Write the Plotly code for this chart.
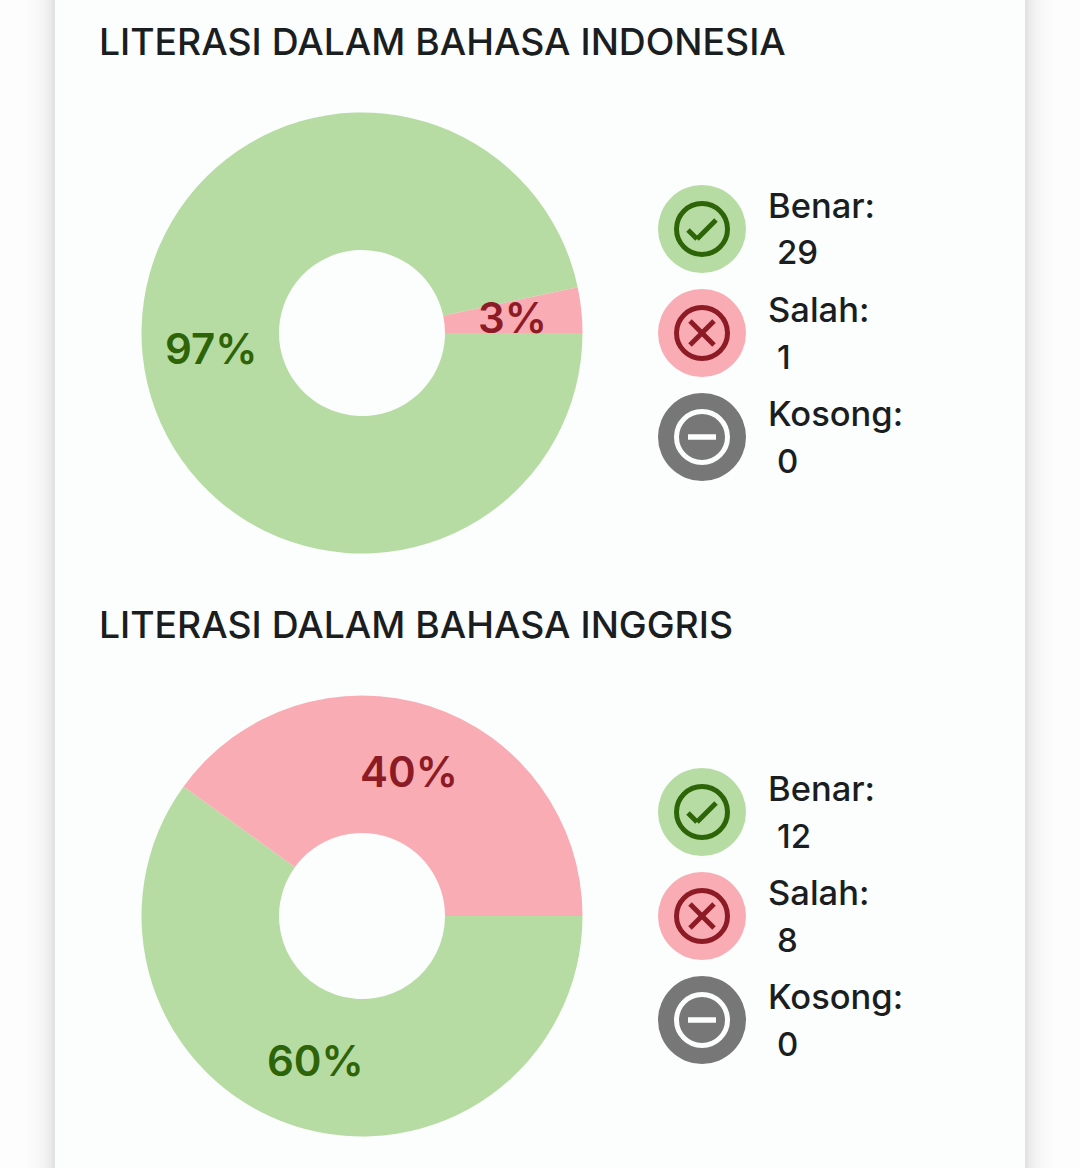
import plotly.graph_objects as go
import math

W, H = 1080, 1168
FONT = "Inter"
titles = ["LITERASI DALAM BAHASA INDONESIA", "LITERASI DALAM BAHASA INGGRIS"]
categories = ["Benar", "Salah", "Kosong"]
counts = [[29, 1, 0], [12, 8, 0]]
slice_colors = ["#B7DCA3", "#F9ACB3", "#777777"]
ink_colors = ["#2E6408", "#8C1B25", "#FCFDFD"]
text_color = "#1B1E21"
card_color = "#FCFDFD"
shadow_alphas = [0.10, 0.075, 0.055, 0.04, 0.03, 0.02, 0.015, 0.01, 0.006, 0.003]

CX, R, HOLE_R = 362, 220.5, 83
CY = [333, 916]
TITLE_Y = [42, 625]
ICON_X, ICON_R, RING_R = 702, 44, 25.5
ROW_OFFSET = [-104, 0, 104]

fx = lambda x: x / W
fy = lambda y: 1 - y / H
shapes, annotations, traces = [], [], []


def rect(x0, y0, x1, y1, color, opacity=1):
    shapes.append(dict(type="rect", xref="paper", yref="paper", x0=fx(x0), x1=fx(x1),
                       y0=fy(y0), y1=fy(y1), fillcolor=color, opacity=opacity,
                       line=dict(width=0), layer="below"))


def circle(cx, cy, r, fill, line=None, width=0):
    shapes.append(dict(type="circle", xref="paper", yref="paper", x0=fx(cx - r), x1=fx(cx + r),
                       y0=fy(cy - r), y1=fy(cy + r), fillcolor=fill,
                       line=dict(color=line or fill, width=width), layer="above"))


def seg(x0, y0, x1, y1, color, width):
    shapes.append(dict(type="line", xref="paper", yref="paper", x0=fx(x0), x1=fx(x1),
                       y0=fy(y0), y1=fy(y1), line=dict(color=color, width=width), layer="above"))


def text(x, y, s, size, color=text_color, anchor="left", weight=500):
    annotations.append(dict(xref="paper", yref="paper", x=fx(x), y=fy(y), text=s, showarrow=False,
                            xanchor=anchor, yanchor="middle", align="left",
                            font=dict(family=FONT, size=size, color=color, weight=weight)))


rect(55, 0, 1025, H, card_color)
for i, a in enumerate(shadow_alphas):
    rect(55 - 3 * (i + 1), 0, 55 - 3 * i, H, "#000000", a)
    rect(1025 + 3 * i, 0, 1025 + 3 * (i + 1), H, "#000000", a)

for b in range(2):
    cy = CY[b]
    traces.append(go.Pie(
        labels=categories, values=counts[b], sort=False, direction="clockwise", rotation=90,
        hole=HOLE_R / R, marker=dict(colors=slice_colors, line=dict(width=0)),
        textinfo="none",
        domain=dict(x=[fx(CX - R), fx(CX + R)], y=[fy(cy + R), fy(cy - R)]),
        showlegend=False))
    start = 0
    total = sum(counts[b])
    for k, v in enumerate(counts[b]):
        if v:
            mid = math.radians((start + v / 2) / total * 360)
            rr = (R + HOLE_R) / 2
            text(CX + rr * math.cos(mid), cy + rr * math.sin(mid), f"{round(v / total * 100)}%", 42,
                 ink_colors[k], "center", 600)
        start += v
    text(97, TITLE_Y[b] - 0.5, titles[b], 37.3)
    for k, off in enumerate(ROW_OFFSET):
        y = cy + off
        ink = ink_colors[k]
        circle(ICON_X, y, ICON_R, slice_colors[k])
        circle(ICON_X, y, RING_R, slice_colors[k], ink, 5)
        if k == 0:
            seg(ICON_X - 14, y + 1, ICON_X - 5, y + 10, ink, 5)
            seg(ICON_X - 5, y + 10, ICON_X + 14, y - 9, ink, 5)
        elif k == 1:
            seg(ICON_X - 12, y - 12, ICON_X + 12, y + 12, ink, 5)
            seg(ICON_X - 12, y + 12, ICON_X + 12, y - 12, ink, 5)
        else:
            seg(ICON_X - 14, y, ICON_X + 14, y, ink, 5.5)
        text(766, y - 23.5, categories[k] + ":", 34.5)
        text(775, y + 23.5, str(counts[b][k]), 33)

fig = go.Figure(traces)
fig.update_layout(width=W, height=H, margin=dict(l=0, r=0, t=0, b=0),
                  paper_bgcolor="#FDFDFD", plot_bgcolor="#FDFDFD",
                  shapes=shapes, annotations=annotations)
fig.write_html("out.html", config=dict(displayModeBar=False),
               post_script="document.body.style.margin='0';document.body.style.background='#FDFDFD';")
